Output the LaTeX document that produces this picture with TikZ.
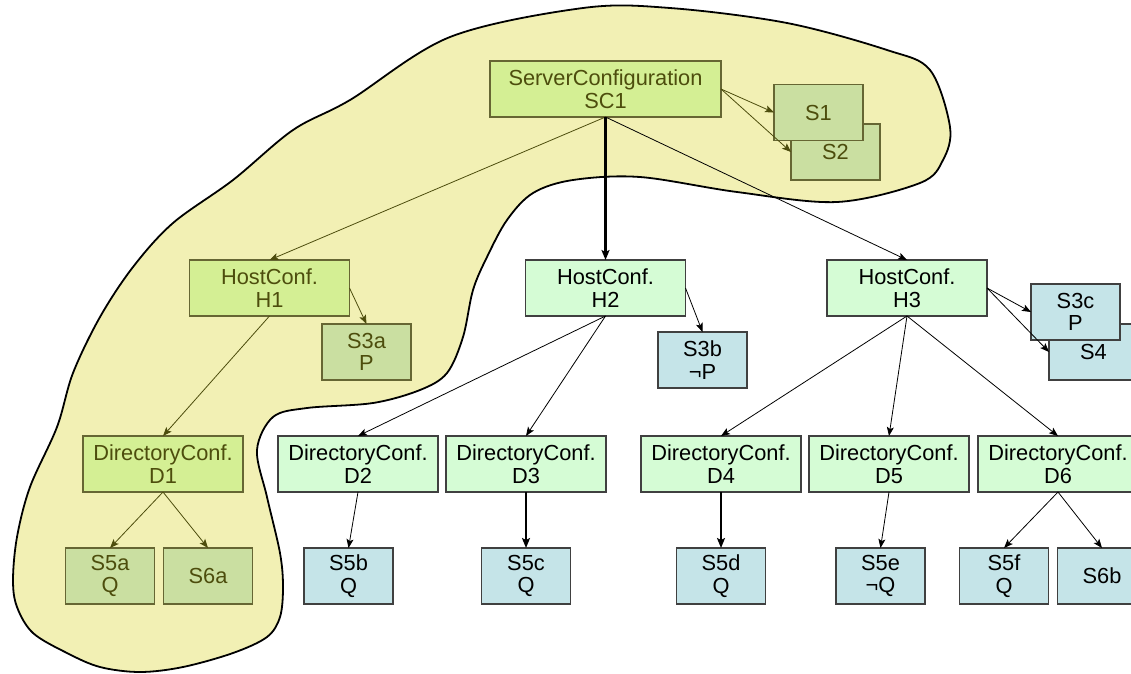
\documentclass[tikz,border=0pt]{standalone}
\usepackage{fontspec}
\setmainfont{Liberation Sans}
\usepackage{tikz}
\usetikzlibrary{arrows.meta,positioning}
\definecolor{blobfill}{RGB}{242,240,180}
\definecolor{limefill}{RGB}{212,239,148}
\definecolor{olivefill}{RGB}{202,223,161}
\definecolor{oliveline}{RGB}{102,102,51}
\definecolor{olivetext}{RGB}{77,77,13}
\definecolor{mintfill}{RGB}{213,252,213}
\definecolor{bluefill}{RGB}{197,228,232}
\definecolor{greyline}{RGB}{64,64,64}

\begin{document}
\begin{tikzpicture}[x=1pt, y=-1pt,
  font=\fontsize{21.8}{22.5}\selectfont,
  conf/.style={line width=1.2pt, align=center, inner sep=0pt, outer sep=0pt,
               minimum width=160pt, minimum height=56pt},
  hiconf/.style={conf, fill=limefill, draw=oliveline, text=olivetext},
  loconf/.style={conf, fill=mintfill, draw=greyline},
  hisvc/.style={conf, fill=olivefill, draw=oliveline, text=olivetext, minimum width=89pt},
  losvc/.style={conf, fill=bluefill, draw=greyline, minimum width=89pt},
  arr/.style={-{Stealth[length=9pt, width=7pt, inset=2pt]}, line width=0.8pt},
  thk/.style={-{Stealth[length=10pt, width=8pt, inset=2pt]}, line width=2.4pt},
  hiarr/.style={arr, color=olivetext},
  loarr/.style={arr, color=black}]
\clip (0,0) rectangle (1131,673);
% highlighted region
\draw[line width=1.8pt, fill=blobfill] plot[smooth cycle, tension=0.55] coordinates {
  (293,130) (350,100) (450,37) (583,8) (670,8) (787,23) (887,50) (930,70)
  (950,127) (943,160) (920,183) (837,202) (737,192) (640,177) (573,180)
  (533,193) (507,220) (487,257) (473,290) (463,337) (447,373) (420,390)
  (373,403) (307,408) (273,417) (257,450) (267,497) (280,553) (283,587)
  (280,617) (267,637) (233,653) (183,667) (140,672) (100,667) (67,653)
  (33,633) (17,607) (13,580) (17,537) (30,487) (57,427) (73,373) (100,317)
  (133,267) (173,223) (233,180)};
% server level
\node[hiconf, minimum width=231pt] (sc1) at (605.5,89) {ServerConfiguration\\SC1};
\node[hisvc] (s2) at (835.5,152) {S2};
\node[hisvc] (s1) at (818.5,112.5) {S1};
% host level
\node[hiconf] (h1) at (269.5,288) {HostConf.\\H1};
\node[loconf, below=143pt of sc1] (h2) {HostConf.\\H2};
\node[loconf] (h3) at (907,288) {HostConf.\\H3};
\node[hisvc] (s3a) at (366.5,352) {S3a\\P};
\node[losvc] (s3b) at (702.5,360) {S3b\\¬P};
\node[losvc] (s4) at (1093.5,352) {S4};
\node[losvc] (s3c) at (1075.5,312) {S3c\\P};
% directory level
\node[hiconf] (d1) at (163,464) {DirectoryConf.\\D1};
\node[loconf, right=35pt of d1] (d2) {DirectoryConf.\\D2};
\node[loconf, right=8pt of d2] (d3) {DirectoryConf.\\D3};
\node[loconf, right=35pt of d3] (d4) {DirectoryConf.\\D4};
\node[loconf, right=8pt of d4] (d5) {DirectoryConf.\\D5};
\node[loconf, right=9pt of d5] (d6) {DirectoryConf.\\D6};
% service level
\node[hisvc] (s5a) at (110,576) {S5a\\Q};
\node[hisvc, right=9pt of s5a] (s6a) {S6a};
\node[losvc, below=56pt of d2, xshift=-9.5pt] (s5b) {S5b\\Q};
\node[losvc, below=56pt of d3] (s5c) {S5c\\Q};
\node[losvc, below=56pt of d4] (s5d) {S5d\\Q};
\node[losvc, below=56pt of d5, xshift=-8.5pt] (s5e) {S5e\\¬Q};
\node[losvc] (s5f) at (1004,576) {S5f\\Q};
\node[losvc, right=9pt of s5f] (s6b) {S6b};
% connectors inside the region
\draw[hiarr] (sc1.east) -- (s1.west);
\draw[hiarr] (sc1.east) -- (s2.west);
\draw[hiarr] (sc1.south) -- (h1.north);
\draw[hiarr] (h1.east) -- (s3a.north);
\draw[hiarr] (h1.south) -- (d1.north);
\draw[hiarr] (d1.south) -- (s5a.north);
\draw[hiarr] (d1.south) -- (s6a.north);
% connectors outside
\draw[thk] (sc1.south) -- (h2.north);
\draw[loarr] (sc1.south) -- (h3.north);
\draw[loarr] (h2.east) -- (s3b.north);
\draw[loarr] (h2.south) -- (d2.north);
\draw[loarr] (h2.south) -- (d3.north);
\draw[loarr] (h3.east) -- (s3c.west);
\draw[loarr] (h3.east) -- (s4.west);
\draw[loarr] (h3.south) -- (d4.north);
\draw[loarr] (h3.south) -- (d5.north);
\draw[loarr] (h3.south) -- (d6.north);
\draw[loarr] (d2.south) -- (s5b.north);
\draw[thk] (d3.south) -- (s5c.north);
\draw[thk] (d4.south) -- (s5d.north);
\draw[loarr] (d5.south) -- (s5e.north);
\draw[loarr] (d6.south) -- (s5f.north);
\draw[loarr] (d6.south) -- (s6b.north);
\end{tikzpicture}
\end{document}
